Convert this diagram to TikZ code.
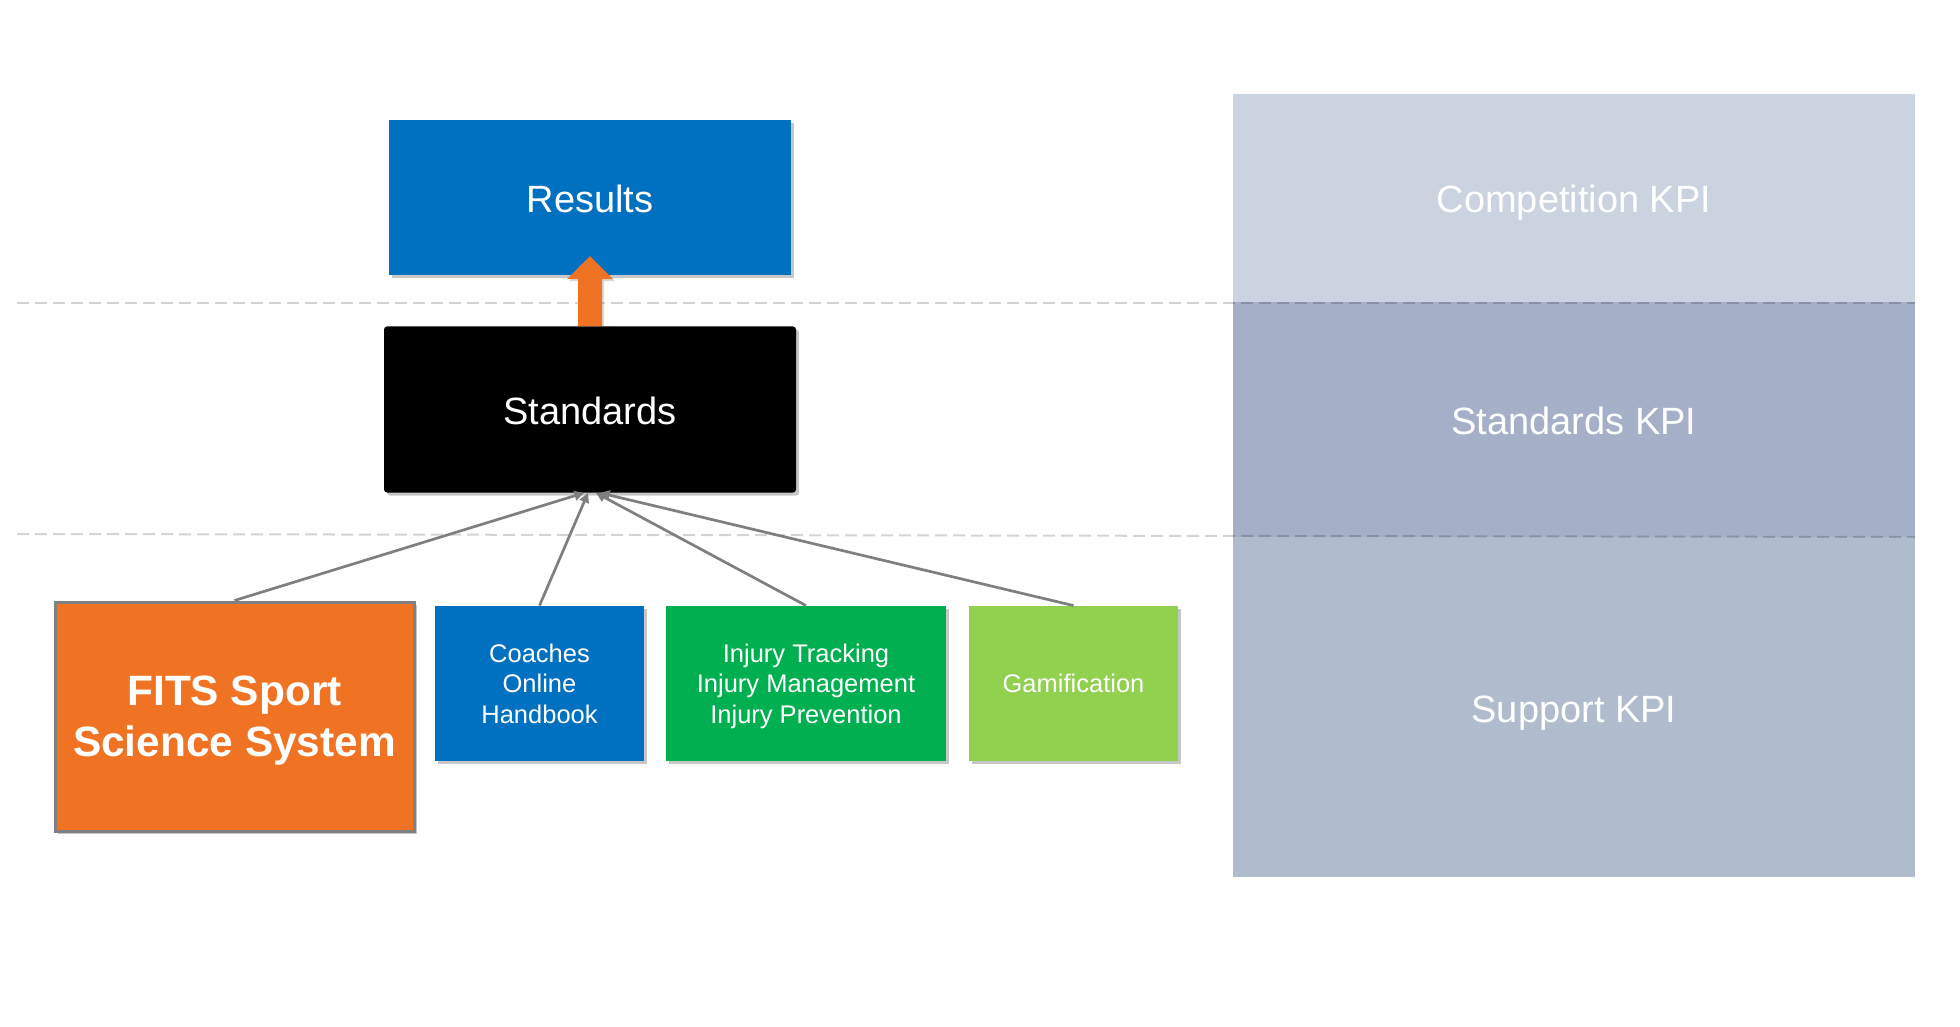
\documentclass[tikz,border=0pt]{standalone}
\usepackage{fontspec}
\setmainfont{Liberation Sans}
\usetikzlibrary{shadows,arrows.meta,calc}
\definecolor{resblue}{HTML}{0070C0}
\definecolor{fitsorange}{HTML}{F07323}
\definecolor{injgreen}{HTML}{00B050}
\definecolor{gamgreen}{HTML}{92D050}
\definecolor{compc}{HTML}{CBD2E0}
\definecolor{stdkpic}{HTML}{A5AFC7}
\definecolor{supc}{HTML}{B1BBCE}
\definecolor{connc}{HTML}{7F7F7F}
\tikzset{
  shad/.style={drop shadow={shadow xshift=1.6pt,shadow yshift=-1.6pt,fill=black,opacity=0.22}},
  bigbox/.style={shad,inner sep=0pt,text=white,align=center,text height=15pt,text depth=0pt,font=\fontsize{19}{23}\selectfont},
  smallbox/.style={shad,inner sep=0pt,text=white,align=center,text depth=0pt,minimum width=104.5pt,minimum height=77.5pt,font=\fontsize{12.75}{15.3}\selectfont},
  panel/.style={inner sep=0pt,text=white,align=center,text height=15pt,text depth=0pt,minimum width=341pt,font=\fontsize{19}{23}\selectfont},
  conn/.style={draw=connc,line width=1.35pt,-{Triangle[width=4.8pt,length=4.8pt]}},
  dashline/.style={draw=black,draw opacity=0.17,line width=1pt,dash pattern=on 6pt off 3pt}
}
\begin{document}
\begin{tikzpicture}[x=0.5pt,y=-0.5pt]
\useasboundingbox (0,0) rectangle (1960,1027);
% right panels
\node[panel,fill=compc,minimum height=104pt] (comp) at (1574,198) {Competition KPI};
\node[panel,fill=stdkpic,minimum height=117.5pt] (stdkpi) at (1574,419.5) {Standards KPI};
\node[panel,fill=supc,minimum height=170pt] (sup) at (1574,707) {Support KPI};
% dashed lines
\coordinate (d1a) at (17,303);
\coordinate (d1b) at (1915,303);
\coordinate (d2a) at (17,534);
\coordinate (d2b) at (1915,537);
\draw[dashline] (d1a) -- (d1b);
\draw[dashline] (d2a) -- (d2b);
% main boxes
\node[bigbox,fill=resblue,minimum width=201pt,minimum height=77.5pt] (res) at (590,197.5) {Results};
\node[bigbox,fill=black,rounded corners=1.5pt,minimum width=206pt,minimum height=83pt] (std) at (590,409.5) {Standards};
\node[shad,fill=fitsorange,draw=gray,line width=1.5pt,text=white,align=center,inner sep=0pt,text depth=0pt,
      minimum width=179.5pt,minimum height=114.5pt,font=\bfseries\fontsize{21.2}{25.5}\selectfont] (fits) at (234.5,716.5) {FITS Sport\\Science System};
\node[smallbox,fill=resblue] (coach) at (539.5,683.5) {Coaches\\Online\\Handbook};
\node[smallbox,fill=injgreen,minimum width=140pt] (inj) at (806,683.5) {Injury Tracking\\Injury Management\\Injury Prevention};
\node[smallbox,fill=gamgreen] (gam) at (1073.5,683.5) {Gamification};
% connectors
\draw[conn] (fits.north) -- ([xshift=-3pt]std.south);
\draw[conn] (coach.north) -- ([xshift=-1pt]std.south);
\draw[conn] (inj.north) -- ([xshift=3pt]std.south);
\draw[conn] (gam.north) -- ([xshift=5pt]std.south);
% orange block arrow
\fill[fitsorange,drop shadow={shadow xshift=1pt,shadow yshift=-1pt,fill=black,opacity=0.15}]
  ([xshift=-6pt]std.north) -- ++(0,-47) -- ++(-11,0) -- ++(23,-23) -- ++(23,23) -- ++(-11,0) -- ++(0,47) -- cycle;
\end{tikzpicture}
\end{document}
